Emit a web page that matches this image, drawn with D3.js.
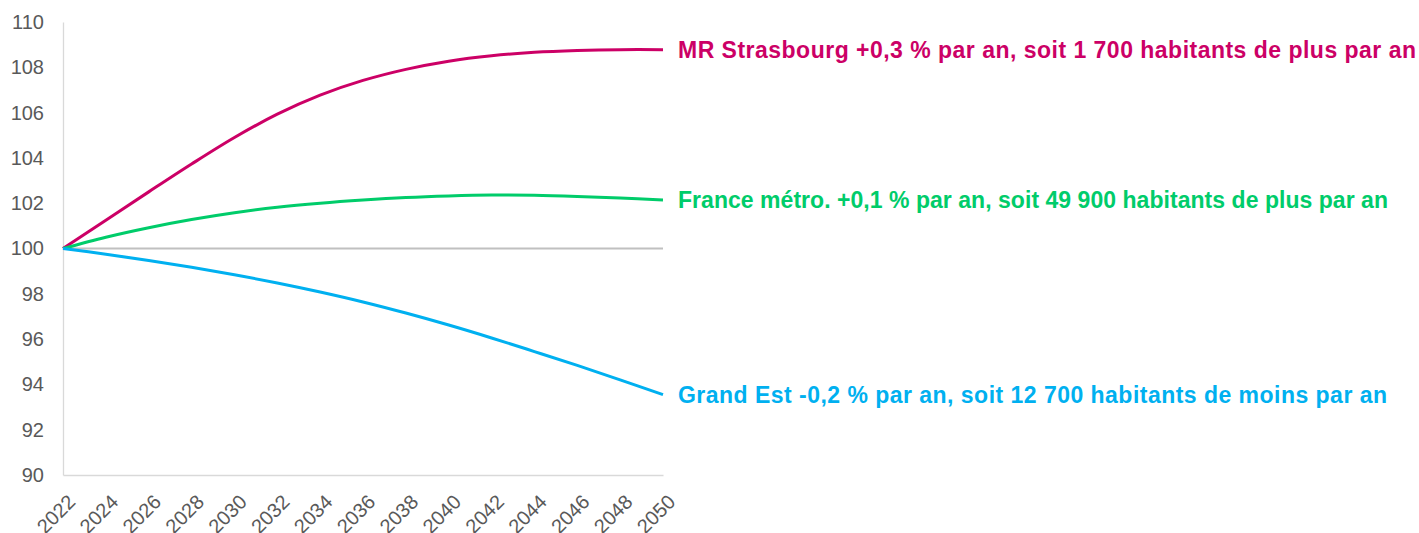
<!DOCTYPE html>
<html>
<head>
<meta charset="utf-8">
<script src="https://cdn.jsdelivr.net/npm/d3@7"></script>
<style>
  html, body { margin: 0; padding: 0; background: #fff; }
  svg { display: block; font-family: "Liberation Sans", Arial, sans-serif; }
</style>
</head>
<body>
<svg id="chart" width="1419" height="533"></svg>
<script>
// -----------------------------------------------------------------------------
// Data (index 100 in 2022)
// -----------------------------------------------------------------------------
const years = [2022, 2024, 2026, 2028, 2030, 2032, 2034, 2036, 2038, 2040, 2042, 2044, 2046, 2048, 2050];

const strasbourg = [100, 101.25, 102.5, 103.73, 104.9, 105.93, 106.77, 107.42, 107.91, 108.27, 108.51, 108.66, 108.74, 108.78, 108.78];
const franceMetro = [100, 100.5, 100.92, 101.28, 101.58, 101.82, 102.0, 102.14, 102.25, 102.32, 102.36, 102.35, 102.3, 102.23, 102.14];
const grandEst = [100, 99.75, 99.47, 99.17, 98.84, 98.48, 98.08, 97.64, 97.15, 96.62, 96.05, 95.45, 94.84, 94.2, 93.55];

const yTicks = [90, 92, 94, 96, 98, 100, 102, 104, 106, 108, 110];

const seriesNames = ["MR Strasbourg", "France métro.", "Grand Est"];
const seriesLabels = [
  "MR Strasbourg +0,3 % par an, soit 1 700 habitants de plus par an",
  "France métro. +0,1 % par an, soit 49 900 habitants de plus par an",
  "Grand Est -0,2 % par an, soit 12 700 habitants de moins par an"
];
const labelWidths = [738, 710, 709];
const seriesColors = ["#CC0066", "#00CC6A", "#00B0F0"];
const seriesValues = [strasbourg, franceMetro, grandEst];

// -----------------------------------------------------------------------------
// Scales
// -----------------------------------------------------------------------------
const svg = d3.select("#chart");

const x = d3.scaleLinear().domain([2022, 2050]).range([63, 663]);
const y = d3.scaleLinear().domain([90, 110]).range([475, 22]);

// y axis (line + labels, no ticks)
const yAxis = svg.append("g")
  .attr("transform", `translate(${x.range()[0]},0)`)
  .call(d3.axisLeft(y).tickValues(yTicks).tickSize(0).tickPadding(19));
yAxis.select(".domain").attr("stroke", "#d9d9d9").attr("stroke-width", 1.3);
yAxis.selectAll("text")
  .attr("fill", "#595959")
  .style("font-size", "20px")
  .style("font-family", "Liberation Sans, Arial, sans-serif");

// x axis (line + rotated labels)
const xAxis = svg.append("g")
  .attr("transform", `translate(0,${y(90)})`)
  .call(d3.axisBottom(x).tickValues(years).tickFormat(d3.format("d")).tickSize(0));
xAxis.select(".domain").attr("stroke", "#d9d9d9").attr("stroke-width", 1.3);
xAxis.selectAll("text")
  .attr("fill", "#595959")
  .style("font-size", "20px")
  .style("font-family", "Liberation Sans, Arial, sans-serif")
  .attr("text-anchor", "end")
  .attr("dy", "0.72em")
  .attr("y", 0)
  .attr("transform", "translate(3,18) rotate(-45)");

// baseline at 100
svg.append("line")
  .attr("x1", x(2022)).attr("x2", x(2050))
  .attr("y1", y(100)).attr("y2", y(100))
  .attr("stroke", "#c0c0c0")
  .attr("stroke-width", 2);

// -----------------------------------------------------------------------------
// Lines
// -----------------------------------------------------------------------------
const line = d3.line()
  .x((d, i) => x(years[i]))
  .y(d => y(d))
  .curve(d3.curveCatmullRom.alpha(0.5));

seriesValues.forEach((vals, k) => {
  svg.append("path")
    .datum(vals)
    .attr("fill", "none")
    .attr("stroke", seriesColors[k])
    .attr("stroke-width", 3)
    .attr("stroke-linejoin", "round")
    .attr("d", line)
    .append("title").text(seriesNames[k]);

  svg.append("text")
    .attr("x", 678)
    .attr("y", y(vals[vals.length - 1]))
    .attr("dy", "0.36em")
    .attr("fill", seriesColors[k])
    .attr("textLength", labelWidths[k])
    .attr("lengthAdjust", "spacing")
    .style("font-size", "23px")
    .style("font-weight", "bold")
    .text(seriesLabels[k]);
});
</script>
</body>
</html>
